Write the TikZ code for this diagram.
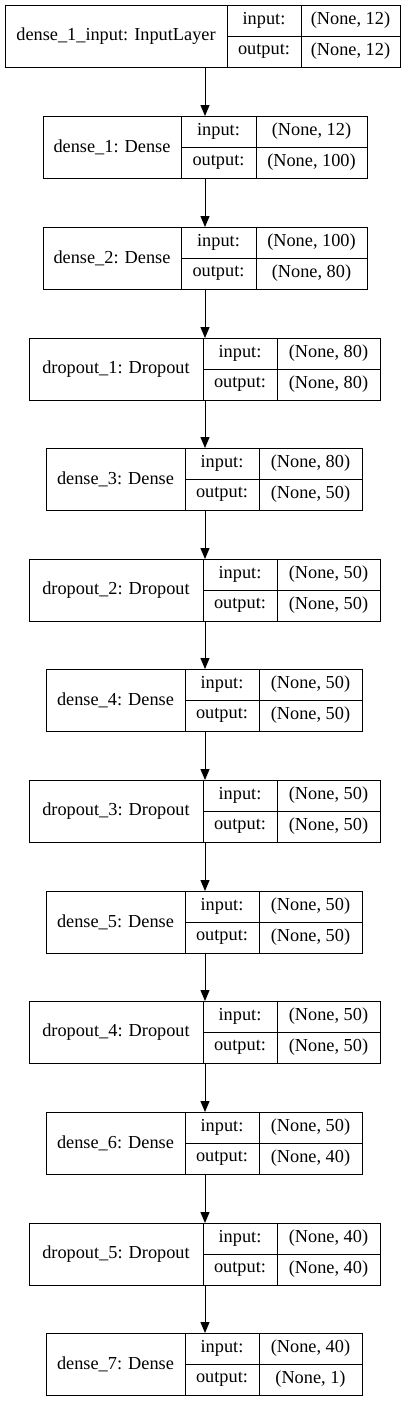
\documentclass[tikz,border=0pt]{standalone}
\usepackage{fontspec}
\setmainfont{Liberation Serif}
\usetikzlibrary{arrows.meta}

\tikzset{
  cell/.style={draw=black, line width=1pt, inner sep=0pt, outer sep=0pt,
               font=\fontsize{18.3}{22}\selectfont},
  conn/.style={line width=1pt, -{Triangle[length=11pt,width=9pt]}},
}

%% one layer: id, top, label, left, cut1, cut2, right, input shape, output shape
\newcommand{\kerasLayer}[9]{%
  \node[cell, minimum width={(#5-#4)*1pt}, minimum height=62pt] (#1) at ({(#4+#5)/2},{#2+31}) {#3};
  \node[cell, minimum width={(#6-#5)*1pt}, minimum height=31pt] (#1in)  at ({(#5+#6)/2},{#2+15.5}) {input:};
  \node[cell, minimum width={(#6-#5)*1pt}, minimum height=31pt] (#1out) at ({(#5+#6)/2},{#2+46.5}) {output:};
  \node[cell, minimum width={(#7-#6)*1pt}, minimum height=31pt] (#1inv)  at ({(#6+#7)/2},{#2+15.5}) {#8};
  \node[cell, minimum width={(#7-#6)*1pt}, minimum height=31pt] (#1outv) at ({(#6+#7)/2},{#2+46.5}) {#9};
  \coordinate (#1top) at (205,{#2});
  \coordinate (#1bot) at (205,{#2+62});
}

\begin{document}
\begin{tikzpicture}[x=1pt, y=-1pt]

\fill[white] (0,0) rectangle (409,1401);
\useasboundingbox (0,0) rectangle (409,1401);

%% Layers
\kerasLayer{input}{5}{dense\_1\_input: InputLayer}{5}{227}{301}{400}{(None, 12)}{(None, 12)}
\kerasLayer{denseA}{116}{dense\_1: Dense}{43}{181}{256}{367}{(None, 12)}{(None, 100)}
\kerasLayer{denseB}{227}{dense\_2: Dense}{43}{181}{256}{367}{(None, 100)}{(None, 80)}
\kerasLayer{dropA}{338}{dropout\_1: Dropout}{29}{203}{277}{380}{(None, 80)}{(None, 80)}
\kerasLayer{denseC}{448}{dense\_3: Dense}{46}{185}{259}{362}{(None, 80)}{(None, 50)}
\kerasLayer{dropB}{559}{dropout\_2: Dropout}{29}{203}{277}{380}{(None, 50)}{(None, 50)}
\kerasLayer{denseD}{669}{dense\_4: Dense}{46}{185}{259}{362}{(None, 50)}{(None, 50)}
\kerasLayer{dropC}{780}{dropout\_3: Dropout}{29}{203}{277}{380}{(None, 50)}{(None, 50)}
\kerasLayer{denseE}{891}{dense\_5: Dense}{46}{185}{259}{362}{(None, 50)}{(None, 50)}
\kerasLayer{dropD}{1001}{dropout\_4: Dropout}{29}{203}{277}{380}{(None, 50)}{(None, 50)}
\kerasLayer{denseF}{1112}{dense\_6: Dense}{46}{185}{259}{362}{(None, 50)}{(None, 40)}
\kerasLayer{dropE}{1223}{dropout\_5: Dropout}{29}{203}{277}{380}{(None, 40)}{(None, 40)}
\kerasLayer{denseG}{1333}{dense\_7: Dense}{46}{185}{259}{362}{(None, 40)}{(None, 1)}

%% Connections
\draw[conn] (inputbot)  -- (denseAtop);
\draw[conn] (denseAbot) -- (denseBtop);
\draw[conn] (denseBbot) -- (dropAtop);
\draw[conn] (dropAbot)  -- (denseCtop);
\draw[conn] (denseCbot) -- (dropBtop);
\draw[conn] (dropBbot)  -- (denseDtop);
\draw[conn] (denseDbot) -- (dropCtop);
\draw[conn] (dropCbot)  -- (denseEtop);
\draw[conn] (denseEbot) -- (dropDtop);
\draw[conn] (dropDbot)  -- (denseFtop);
\draw[conn] (denseFbot) -- (dropEtop);
\draw[conn] (dropEbot)  -- (denseGtop);

\end{tikzpicture}
\end{document}
